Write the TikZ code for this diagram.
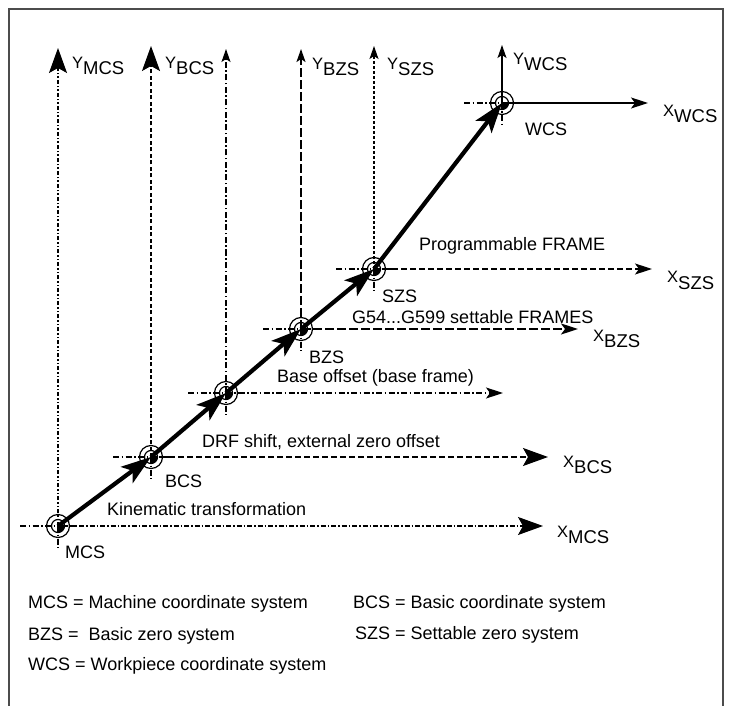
\documentclass[tikz,border=0pt]{standalone}
\usepackage{fontspec}
\setmainfont{Liberation Sans}
\usetikzlibrary{arrows.meta}
\newcommand\axlab[2]{{\fontsize{16.5}{16}\selectfont #1}\raisebox{-6pt}{\fontsize{18.5}{18}\selectfont #2}}
\newcommand\originmark[1]{%
  \draw[line width=1.2pt] (#1) circle[radius=11.5pt];
  \draw[line width=1.2pt] (#1) circle[radius=6.5pt];
  \fill (#1) -- ++(6.5pt,0pt) arc[start angle=0,end angle=-90,radius=6.5pt] -- cycle;
}
\begin{document}
\begin{tikzpicture}[x=1pt,y=-1pt,
  txt/.style={anchor=base west, inner sep=0pt, font=\fontsize{18}{18}\selectfont},
  bigtip/.style={-{Stealth[length=25pt,width=18pt,inset=5pt]}},
  smalltip/.style={-{Stealth[length=13pt,width=9pt,inset=3pt]}},
  midtip/.style={-{Stealth[length=17pt,width=11pt,inset=4pt]}},
  axisline/.style={line width=1.2pt},
  dashdot/.style={dash pattern=on 6pt off 2.5pt on 1.5pt off 2.5pt},
  dashdotdot/.style={dash pattern=on 4pt off 2pt on 1.5pt off 2pt on 1.5pt off 2pt},
  shortdash/.style={dash pattern=on 4pt off 2.5pt},
  longdash/.style={dash pattern=on 9pt off 3pt},
  meddash/.style={dash pattern=on 6pt off 3pt},
  move/.style={line width=4.2pt, -{Stealth[length=30pt,width=20pt,inset=7pt]}},
  stub/.style={line width=1.2pt, dash pattern=on 6pt off 2.5pt on 1.5pt off 2.5pt},
]
\useasboundingbox (0,0) rectangle (729,706);
\draw[line width=1.6pt, black!70] (9,720) -- (9,9) -- (723,9) -- (723,720);

% origins
\coordinate (mcs) at (58,526);
\coordinate (bcs) at (151,457);
\coordinate (bfr) at (226,393);
\coordinate (bzs) at (301,329);
\coordinate (szs) at (374,269);
\coordinate (wcs) at (502,103);

% axis ends
\coordinate (ymcs) at (58,48);
\coordinate (ybcs) at (151,46);
\coordinate (ybfr) at (226,49);
\coordinate (ybzs) at (301,49);
\coordinate (yszs) at (374,46);
\coordinate (ywcs) at (502,45);
\coordinate (xmcs) at (543,526);
\coordinate (xbcs) at (548,457);
\coordinate (xbfr) at (503,393);
\coordinate (xbzs) at (578,329);
\coordinate (xszs) at (652,269);
\coordinate (xwcs) at (648,103);

% stubs
\foreach \o in {mcs,bcs,bfr,bzs,szs,wcs}{
  \draw[stub] ([xshift=-38pt]\o) -- ([xshift=18pt]\o);
  \draw[stub] (\o) -- ([yshift=-22pt]\o);
}

% vertical axes
\draw[axisline,dashdotdot,bigtip] (mcs) -- (ymcs);
\draw[axisline,shortdash,bigtip] (bcs) -- (ybcs);
\draw[axisline,dashdot,smalltip] (bfr) -- (ybfr);
\draw[line width=1.8pt,longdash,smalltip] (bzs) -- (ybzs);
\draw[axisline,dash pattern=on 3pt off 2pt,smalltip] (szs) -- (yszs);
\draw[axisline,smalltip] (wcs) -- (ywcs);

% horizontal axes
\draw[axisline,dash pattern=on 5pt off 2pt on 1.5pt off 2pt,bigtip] (mcs) -- (xmcs);
\draw[axisline,meddash,bigtip] (bcs) -- (xbcs);
\draw[axisline,dashdot,midtip] (bfr) -- (xbfr);
\draw[line width=1.8pt,longdash,midtip] (bzs) -- (xbzs);
\draw[axisline,meddash,midtip] (szs) -- (xszs);
\draw[axisline,midtip] (wcs) -- (xwcs);

% origin marks
\originmark{mcs}
\originmark{bcs}
\originmark{bfr}
\originmark{bzs}
\originmark{szs}
\originmark{wcs}

% transformations
\draw[move] (mcs) -- (bcs);
\draw[move] (bcs) -- (bfr);
\draw[move] (bfr) -- (bzs);
\draw[move] (bzs) -- (szs);
\draw[move] (szs) -- (wcs);

% axis labels
\node[txt] (lymcs) at (72,69) {\axlab{Y}{MCS}};
\node[txt] (lybcs) at (165,69) {\axlab{Y}{BCS}};
\node[txt] (lybzs) at (312,70) {\axlab{Y}{BZS}};
\node[txt] (lyszs) at (387,70) {\axlab{Y}{SZS}};
\node[txt] (lywcs) at (513,65) {\axlab{Y}{WCS}};
\node[txt] (lxmcs) at (557,537) {\axlab{X}{MCS}};
\node[txt] (lxbcs) at (563,467) {\axlab{X}{BCS}};
\node[txt] (lxbzs) at (593,341) {\axlab{X}{BZS}};
\node[txt] (lxszs) at (667,283) {\axlab{X}{SZS}};
\node[txt] (lxwcs) at (663,117) {\axlab{X}{WCS}};

% point labels
\node[txt] (pmcs) at (65,558) {MCS};
\node[txt] (pbcs) at (165,487) {BCS};
\node[txt] (pbzs) at (309,363) {BZS};
\node[txt] (pszs) at (382,302) {SZS};
\node[txt] (pwcs) at (525,136) {WCS};

% step labels
\node[txt] (t1) at (107,515) {Kinematic transformation};
\node[txt] (t2) at (202,447) {DRF shift, external zero offset};
\node[txt] (t3) at (277,382) {Base offset (base frame)};
\node[txt] (t4) at (352,323) {G54...G599 settable FRAMES};
\node[txt] (t5) at (419,251) {Programmable FRAME};

% legend
\node[txt] (g1) at (28,608) {MCS = Machine coordinate system};
\node[txt] (g2) at (353,608) {BCS = Basic coordinate system};
\node[txt] (g3) at (28,640) {BZS = \ Basic zero system};
\node[txt] (g4) at (355,639) {SZS = Settable zero system};
\node[txt] (g5) at (28,670) {WCS = Workpiece coordinate system};
\end{tikzpicture}
\end{document}
